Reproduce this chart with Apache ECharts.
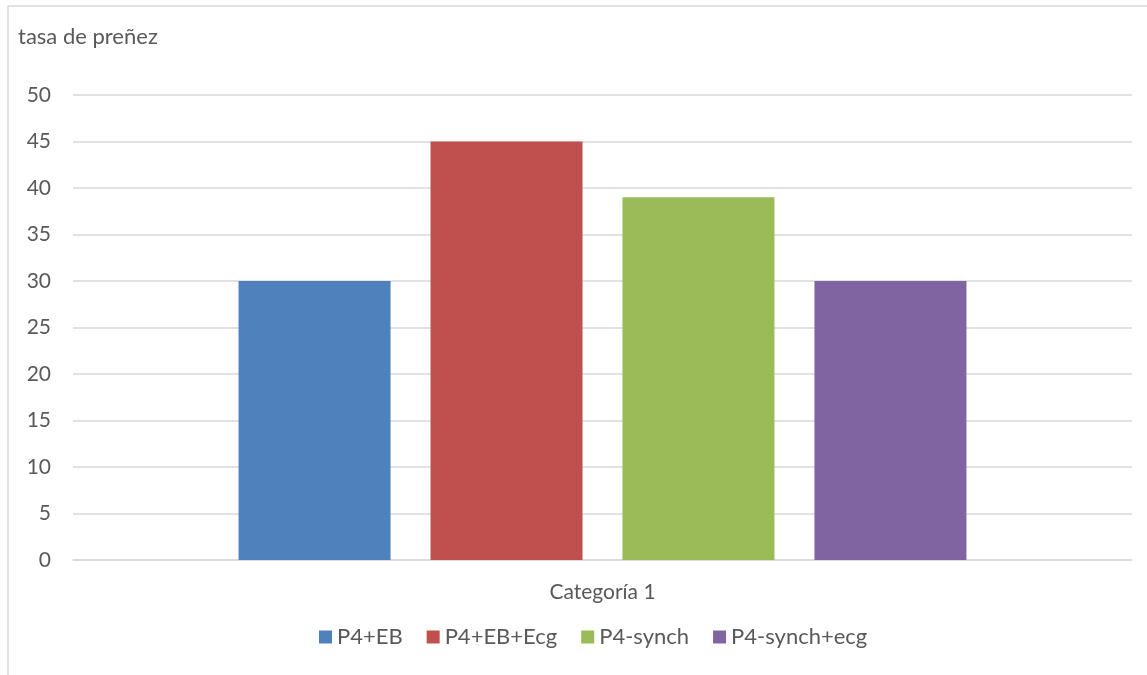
<!DOCTYPE html>
<html>
<head>
<meta charset="utf-8">
<script src="https://cdn.jsdelivr.net/npm/echarts@6/dist/echarts.min.js"></script>
<style>
  html, body { margin: 0; padding: 0; background: #fff; }
  #chart { width: 1147px; height: 675px; }
</style>
</head>
<body>
<div id="chart"></div>
<script>
// data
const categories = ['Categoría 1']
const seriesNames = ['P4+EB', 'P4+EB+Ecg', 'P4-synch', 'P4-synch+ecg']
const seriesValues = [[30], [45], [39], [30]]
const colors = ['#4F81BD', '#C0504D', '#9BBB59', '#8064A2']

const font = 'Lato, sans-serif'
const fontSize = 21
const textColor = '#595959'

const myChart = echarts.init(document.getElementById('chart'))

const option = {
  animation: false,
  graphic: [
    {
      type: 'rect',
      shape: { x: 8, y: 6, width: 1200, height: 700 },
      style: { fill: 'none', stroke: '#d9d9d9', lineWidth: 1.5 },
      silent: true
    },
    {
      type: 'text',
      left: 18,
      top: 26,
      style: { text: 'tasa de preñez', font: '22px ' + font, fill: textColor }
    }
  ],
  grid: { left: 73, right: 15, top: 95, bottom: 115 },
  legend: {
    bottom: 22,
    left: 314,
    itemWidth: 13,
    itemHeight: 13,
    itemGap: 24,
    icon: 'rect',
    textStyle: { fontFamily: font, fontSize: 22, color: textColor },
    data: seriesNames
  },
  xAxis: {
    type: 'category',
    data: categories,
    axisLine: { lineStyle: { color: '#d9d9d9', width: 1.5 } },
    axisTick: { show: false },
    axisLabel: { margin: 22, fontFamily: font, fontSize: fontSize, color: textColor }
  },
  yAxis: {
    type: 'value',
    min: 0,
    max: 50,
    interval: 5,
    axisLine: { show: false },
    axisTick: { show: false },
    splitLine: { lineStyle: { color: '#d9d9d9', width: 1.5 } },
    axisLabel: { margin: 22, fontFamily: font, fontSize: fontSize, color: textColor }
  },
  series: seriesNames.map((name, i) => ({
    name: name,
    type: 'bar',
    data: seriesValues[i],
    itemStyle: { color: colors[i] },
    barWidth: 152,
    barGap: '26.3%'
  }))
}

myChart.setOption(option)
</script>
</body>
</html>
